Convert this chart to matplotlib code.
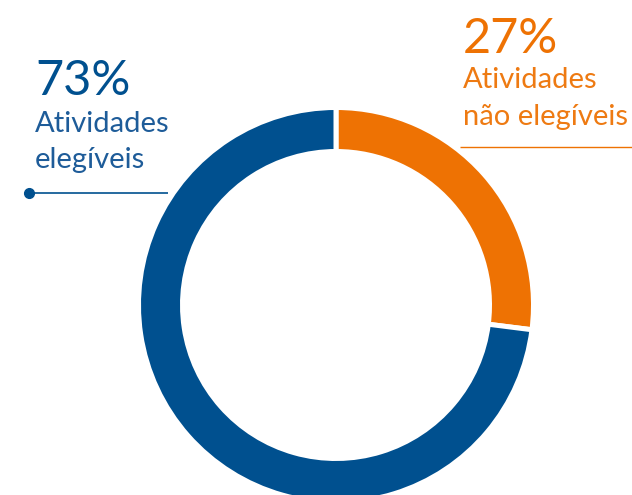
import matplotlib
matplotlib.use("Agg")
import matplotlib.pyplot as plt

# Share of activities
labels = ["Atividades\nnão elegíveis", "Atividades\nelegíveis"]
values = [27, 73]
colors = ["#EE7203", "#00508F"]
text_colors = ["#EE7A12", "#1E5C99"]

W, H = 632, 495
fig = plt.figure(figsize=(W / 100, H / 100), dpi=100)
ax = fig.add_axes([0, 0, 1, 1])

ax.pie(values, colors=colors, startangle=90, counterclock=False,
       center=(336, H - 305), radius=197.5,
       wedgeprops=dict(width=44, edgecolor="white", linewidth=3.6))

ax.set_xlim(0, W)
ax.set_ylim(0, H)
ax.set_aspect("equal")
ax.axis("off")

font = "Lato"
sub = 21

# Left annotation: eligible activities
ax.text(35, H - 95, f"{values[1]}%", fontsize=35, color=colors[1],
        family=font, va="baseline", ha="left")
ax.text(35, H - 132, "Atividades", fontsize=sub, color=text_colors[1],
        family=font, va="baseline", ha="left")
ax.text(35, H - 168, "elegíveis", fontsize=sub, color=text_colors[1],
        family=font, va="baseline", ha="left")
ax.plot([29, 168], [H - 193, H - 193], color=colors[1], lw=1.2,
        solid_capstyle="butt")
ax.plot([29], [H - 193], "o", color=colors[1], ms=7)

# Right annotation: non-eligible activities
ax.text(463, H - 53, f"{values[0]}%", fontsize=35, color=colors[0],
        family=font, va="baseline", ha="left")
ax.text(463, H - 88, "Atividades", fontsize=sub, color=text_colors[0],
        family=font, va="baseline", ha="left")
ax.text(463, H - 125, "não elegíveis", fontsize=sub, color=text_colors[0],
        family=font, va="baseline", ha="left")
ax.plot([460, W], [H - 147, H - 147], color=colors[0], lw=1.0,
        solid_capstyle="butt")

fig.savefig("out.png", dpi=100, facecolor="white")
